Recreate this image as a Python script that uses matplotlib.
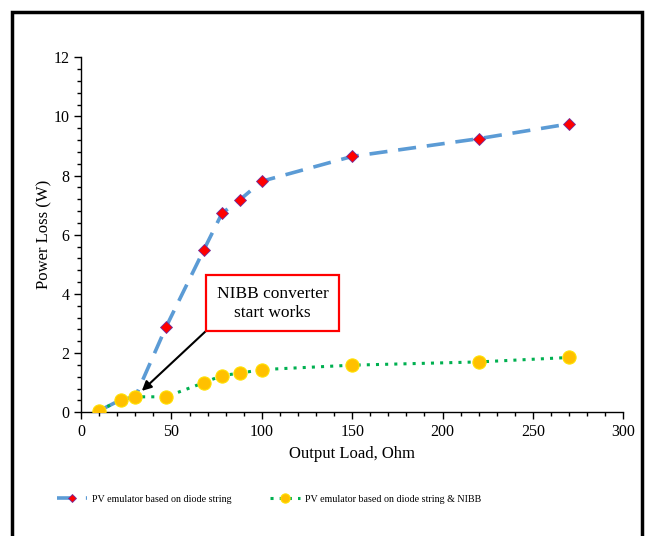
import matplotlib.pyplot as plt
from matplotlib.patches import Rectangle
from matplotlib.ticker import MultipleLocator

plt.rcParams['font.family'] = ['Liberation Serif', 'DejaVu Serif']

# data
load_ohm = [10, 22, 30, 47, 68, 78, 88, 100, 150, 220, 270]
loss_diode = [0.05, 0.42, 0.52, 2.88, 5.50, 6.73, 7.19, 7.81, 8.65, 9.25, 9.75]
loss_nibb = [0.05, 0.42, 0.52, 0.52, 1.00, 1.24, 1.32, 1.44, 1.59, 1.70, 1.85]

label_diode = "PV emulator based on diode string"
label_nibb = "PV emulator based on diode string & NIBB"

fig = plt.figure(figsize=(6.54, 5.36), dpi=100)
ax = fig.add_axes([0.124, 0.231, 0.829, 0.662])

ax.plot(load_ohm, loss_diode, color="#5B9BD5", lw=2.6, ls=(0, (5, 3)),
        marker="D", ms=6, mfc="red", mec="#7030A0", mew=0.6,
        label=label_diode, zorder=3)
ax.plot(load_ohm, loss_nibb, color="#00B050", lw=2.2, ls=(0, (1, 2)),
        marker="o", ms=9.5, mfc="#FFC000", mec="#FFE000", mew=0.8,
        label=label_nibb, zorder=4)

ax.set_xlim(0, 300)
ax.set_ylim(0, 12)
ax.xaxis.set_major_locator(MultipleLocator(50))
ax.xaxis.set_minor_locator(MultipleLocator(10))
ax.yaxis.set_major_locator(MultipleLocator(2))
ax.yaxis.set_minor_locator(MultipleLocator(0.4))
ax.tick_params(which="major", direction="out", length=5, width=1, labelsize=11.5)
ax.tick_params(which="minor", direction="out", length=3, width=1)
for s in ["top", "right"]:
    ax.spines[s].set_visible(False)
for s in ["left", "bottom"]:
    ax.spines[s].set_linewidth(1)

ax.set_xlabel("Output Load, Ohm", fontsize=12)
ax.set_ylabel("Power Loss (W)", fontsize=12, labelpad=0.5)

ax.annotate("NIBB converter\nstart works", xy=(33.6, 0.72), xytext=(106, 3.68),
            fontsize=12.5, ha="center", va="center", linespacing=1.25,
            bbox=dict(boxstyle="square,pad=0.6", fc="white", ec="red", lw=1.6),
            arrowprops=dict(arrowstyle="-|>", color="black", lw=1.5,
                            mutation_scale=14, shrinkA=0, shrinkB=0,
                            relpos=(0.0, 0.0)),
            zorder=5)

fig.legend(loc="center left", bbox_to_anchor=(57 / 654, 0.069), ncol=2,
           frameon=False, fontsize=7.2, handlelength=3.0, columnspacing=3.8,
           handletextpad=0.5, borderpad=0, borderaxespad=0, markerscale=0.7)

# outer chart border
fig.patches.append(Rectangle((12 / 654, -0.05), 630 / 654, 1.05 - 12 / 536,
                             transform=fig.transFigure, fill=False,
                             ec="black", lw=2.5))

fig.savefig("out.png", dpi=100)
